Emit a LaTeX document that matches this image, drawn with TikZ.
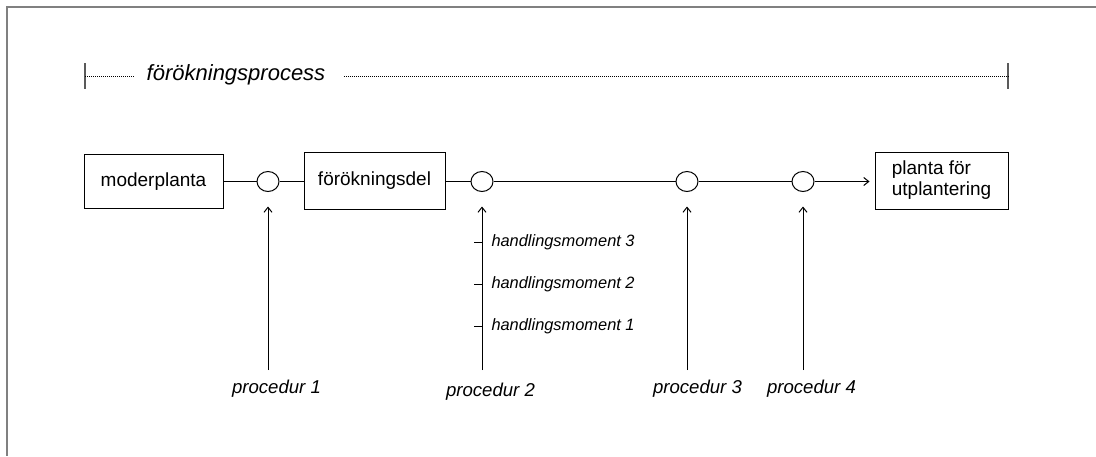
\documentclass[tikz,border=0pt]{standalone}
\usepackage{fontspec}
\setmainfont{Liberation Sans}
\usetikzlibrary{arrows.meta,shapes.geometric}

\definecolor{framegray}{RGB}{128,128,128}
\definecolor{tickgray}{RGB}{90,90,90}

\begin{document}
\begin{tikzpicture}[x=1pt, y=-1pt, line width=1pt,
  box/.style={draw, rectangle, inner sep=0pt, font=\fontsize{19}{21}\selectfont},
  junction/.style={draw, ellipse, minimum width=22pt, minimum height=20pt, inner sep=0pt},
  proclabel/.style={font=\fontsize{18.6}{22}\selectfont\itshape, inner sep=0pt},
  steplabel/.style={font=\fontsize{16.4}{20}\selectfont\itshape, anchor=west, inner sep=0pt},
  titlelabel/.style={font=\fontsize{22}{26}\selectfont\itshape, inner sep=0pt},
  tip/.style={-{Straight Barb[length=5pt,width=8pt]}},
  dotline/.style={line width=0.8pt, dash pattern=on 1pt off 1pt},
  endtick/.style={draw=tickgray, line width=1.6pt},
  frameline/.style={draw=framegray, line width=2pt},
]
\useasboundingbox (0,0) rectangle (1096,456);

% open frame, top and left edges
\draw[frameline] (1096,7) -- (7,7) -- (7,456);

% process span with title
\coordinate (lt) at (85,76);
\coordinate (rt) at (1008,76);
\draw[endtick] (85,63) -- (85,89);
\draw[endtick] (1008,63) -- (1008,89);
\node[titlelabel] (title) at (236,75) {förökningsprocess};
\draw[dotline] (lt) -- ([xshift=-13pt]title.west |- lt);
\draw[dotline] ([xshift=18pt]title.east |- rt) -- (rt);

% main chain
\node[box, minimum width=139pt, minimum height=54pt] (mother) at (153.5,181.5) {moderplanta};
\node[junction] (c1) at (268,181.5) {};
\node[box, minimum width=141pt, minimum height=57pt] (part) at (374.5,180.5) {förökningsdel};
\node[junction] (c2) at (482,181.5) {};
\node[junction] (c3) at (687,181.5) {};
\node[junction] (c4) at (803,181.5) {};
\node[box, minimum width=133pt, minimum height=57pt, align=left] (plant) at (941.5,180.5) {planta för\\utplantering};

\draw (mother.east |- c1) -- (c1.west);
\draw (c1.east) -- (part.west |- c1);
\draw (part.east |- c2) -- (c2.west);
\draw (c2.east) -- (c3.west);
\draw (c3.east) -- (c4.west);
\draw[tip, shorten >=5pt] (c4.east) -- (plant.west |- c4);

% procedures feeding the junctions
\coordinate (b1) at (268,370);
\coordinate (b2) at (482,370);
\coordinate (b3) at (687,370);
\coordinate (b4) at (803,370);
\draw[tip, shorten >=14.5pt] (b1) -- (c1.south);
\draw[tip, shorten >=14.5pt] (b2) -- (c2.south);
\draw[tip, shorten >=14.5pt] (b3) -- (c3.south);
\draw[tip, shorten >=14.5pt] (b4) -- (c4.south);

\node[proclabel] (p1) at (276.5,388.5) {procedur 1};
\node[proclabel] (p2) at (490.5,391.5) {procedur 2};
\node[proclabel] (p3) at (697.5,388.5) {procedur 3};
\node[proclabel] (p4) at (811.5,388.5) {procedur 4};

% steps within procedure 2, each marked by a tick on its arrow
\node[steplabel] (h3) at (491,242) {handlingsmoment 3};
\node[steplabel] (h2) at (491,284) {handlingsmoment 2};
\node[steplabel] (h1) at (491,326) {handlingsmoment 1};
\draw (h3.west -| b2) ++(-8,0) -- ++(8.5,0);
\draw (h2.west -| b2) ++(-8,0) -- ++(8.5,0);
\draw (h1.west -| b2) ++(-8,0) -- ++(8.5,0);
\end{tikzpicture}
\end{document}
